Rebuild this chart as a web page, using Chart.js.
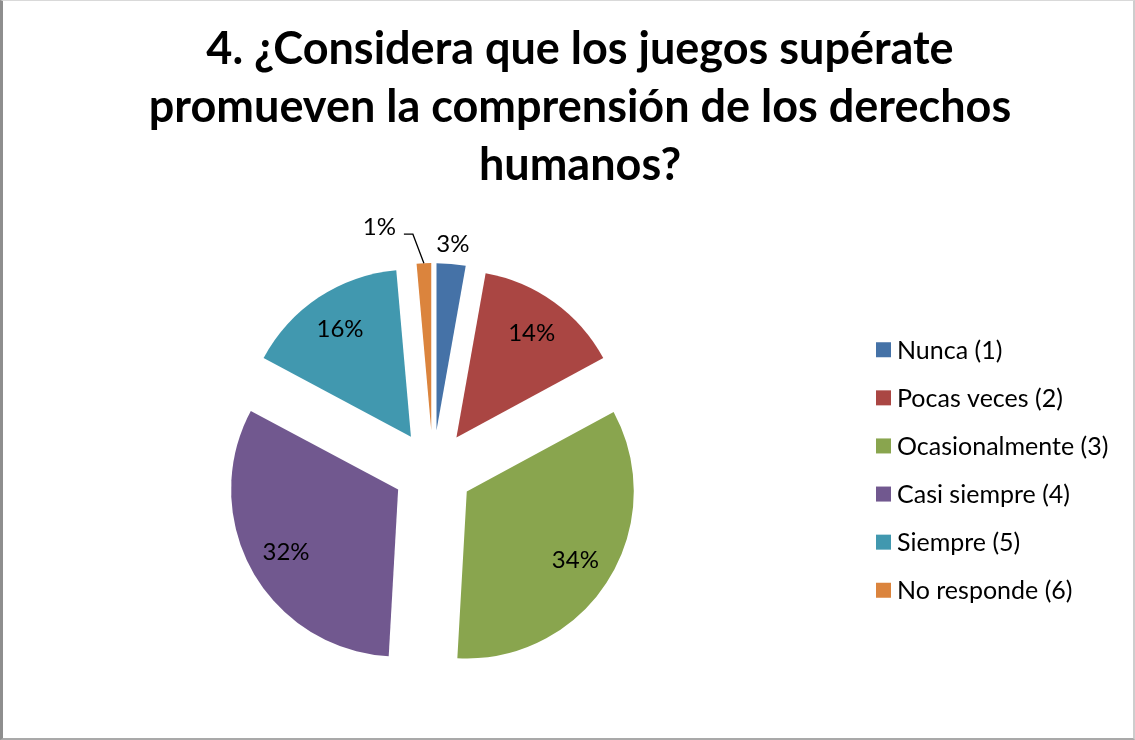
<!DOCTYPE html>
<html lang="es">
<head>
<meta charset="utf-8">
<title>Juegos supérate - derechos humanos</title>
<script src="https://cdn.jsdelivr.net/npm/chart.js@4.4.1/dist/chart.umd.min.js"></script>
<style>
    html, body { margin: 0; padding: 0; background: #fff; }
    .frame {
        position: absolute; left: 0; top: 0;
        width: 1135px; height: 740px; box-sizing: border-box;
        border-left: 3px solid #8e8e8e;
        border-top: 1px solid #d9d9d9;
        border-right: 2px solid #cdcdcd;
        border-bottom: 2px solid #a9a9a9;
        background: #fff;
    }
    .chart-box { position: relative; width: 1130px; height: 737px; }
</style>
</head>
<body>
<div class="frame"><div class="chart-box"><canvas id="pieChart"></canvas></div></div>
<script>
// Chart data
const titleLines = [
    '4. ¿Considera que los juegos supérate',
    'promueven la comprensión de los derechos',
    'humanos?'
];
const categories = ['Nunca (1)', 'Pocas veces (2)', 'Ocasionalmente (3)', 'Casi siempre (4)', 'Siempre (5)', 'No responde (6)'];
const percentages = [2.8, 14.3, 33.8, 31.9, 15.8, 1.4];
const sliceColors = ['#4572A7', '#AA4643', '#89A54E', '#71588F', '#4198AF', '#DB843D'];

const FONT = 'Lato, "Open Sans", sans-serif';

// Arc that is pushed out along its mid angle without growing its radius
class ExplodedArc extends Chart.ArcElement {
    static id = 'explodedArc';
    draw(ctx) {
        const {x, y, startAngle, endAngle, outerRadius, options} = this;
        if (endAngle <= startAngle) return;
        const mid = (startAngle + endAngle) / 2;
        const shift = options.offset || 0;
        ctx.save();
        ctx.translate(Math.cos(mid) * shift, Math.sin(mid) * shift);
        ctx.beginPath();
        ctx.moveTo(x, y);
        ctx.arc(x, y, outerRadius, startAngle, endAngle);
        ctx.closePath();
        ctx.fillStyle = options.backgroundColor;
        ctx.fill();
        ctx.restore();
    }
}

class ExplodedPie extends Chart.PieController {
    static id = 'explodedPie';
    static defaults = { dataElementType: 'explodedArc' };
}

Chart.register(ExplodedArc, ExplodedPie);

// Title drawn in three lines
const titlePlugin = {
    id: 'titleLines',
    afterDraw(chart) {
        const ctx = chart.ctx;
        ctx.save();
        ctx.font = 'bold 45px ' + FONT;
        ctx.fillStyle = '#000';
        ctx.textAlign = 'center';
        ctx.textBaseline = 'alphabetic';
        titleLines.forEach((line, i) => {
            ctx.fillText(line, 577, 63 + i * 58);
        });
        ctx.restore();
    }
};

// Legend on the right, square markers
const sideLegend = {
    id: 'sideLegend',
    afterDraw(chart) {
        const ctx = chart.ctx;
        const area = chart.chartArea;
        const centerY = (area.top + area.bottom) / 2;
        const rowGap = 48.1;
        ctx.save();
        ctx.font = '25px ' + FONT;
        ctx.textAlign = 'left';
        ctx.textBaseline = 'middle';
        categories.forEach((name, i) => {
            const y = centerY + (i - (categories.length - 1) / 2) * rowGap;
            ctx.fillStyle = sliceColors[i];
            ctx.fillRect(area.right + 13, y - 7.5, 15, 15);
            ctx.fillStyle = '#000';
            ctx.fillText(name, area.right + 34, y + 1);
        });
        ctx.restore();
    }
};

// Percentage labels
const sliceLabels = {
    id: 'sliceLabels',
    afterDatasetsDraw(chart) {
        const ctx = chart.ctx;
        const arcs = chart.getDatasetMeta(0).data;
        ctx.save();
        ctx.font = '24px ' + FONT;
        ctx.fillStyle = '#000';
        ctx.textBaseline = 'middle';
        arcs.forEach((arc, i) => {
            const mid = (arc.startAngle + arc.endAngle) / 2;
            const cos = Math.cos(mid), sin = Math.sin(mid);
            const shift = arc.options.offset || 0;
            const cx = arc.x + cos * shift;
            const cy = arc.y + sin * shift;
            const r = arc.outerRadius;
            const text = Math.round(percentages[i]) + '%';
            if (percentages[i] >= 5) {
                ctx.textAlign = 'center';
                ctx.fillText(text, cx + cos * r * 0.77, cy + sin * r * 0.77);
            } else if (percentages[i] >= 2) {
                ctx.textAlign = 'center';
                ctx.fillText(text, cx + cos * (r + 20), cy + sin * (r + 20));
            } else {
                // small slice: label moved aside with a leader line
                const ax = cx + cos * r, ay = cy + sin * r;
                const ex = ax - 11, ey = ay - 29;
                ctx.beginPath();
                ctx.moveTo(ax, ay);
                ctx.lineTo(ex, ey);
                ctx.lineTo(ex - 9, ey);
                ctx.strokeStyle = '#000';
                ctx.lineWidth = 1.3;
                ctx.stroke();
                ctx.textAlign = 'right';
                ctx.fillText(text, ex - 17, ey - 7);
            }
        });
        ctx.restore();
    }
};

new Chart(document.getElementById('pieChart'), {
    type: 'explodedPie',
    data: {
        labels: categories,
        datasets: [{
            data: percentages,
            backgroundColor: sliceColors,
            borderWidth: 0,
            offset: 40,
            radius: 167
        }]
    },
    options: {
        responsive: true,
        maintainAspectRatio: false,
        animation: false,
        layout: {
            padding: { left: 0, right: 270, top: 240, bottom: 39 }
        },
        plugins: {
            legend: { display: false },
            title: { display: false },
            tooltip: { enabled: false }
        }
    },
    plugins: [sliceLabels, titlePlugin, sideLegend]
});
</script>
</body>
</html>
